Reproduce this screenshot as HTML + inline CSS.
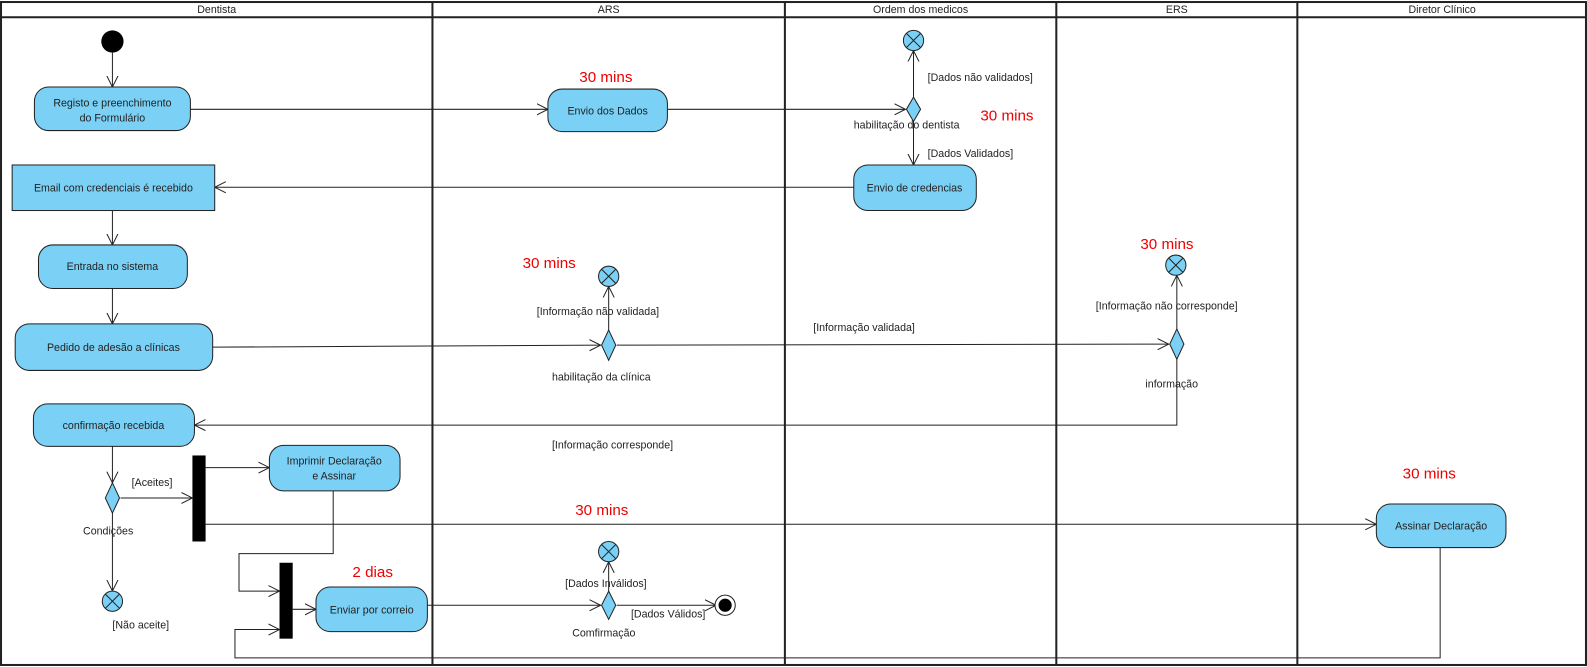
<!DOCTYPE html>
<html><head><meta charset="utf-8"><style>
html,body{margin:0;padding:0;background:#fff;width:1587px;height:667px;overflow:hidden}
svg{display:block}
text{font-family:"Liberation Sans",sans-serif;font-size:10.5px;fill:#222}
.r{font-size:15px;fill:#e00}
.n{fill:#7bd0f5;stroke:#222;stroke-width:1}
.l{stroke:#222;stroke-width:1;fill:none}
</style></head><body>
<svg width="1587" height="667" viewBox="0 0 1567 659" preserveAspectRatio="none" xmlns="http://www.w3.org/2000/svg">
<defs><marker id="a" markerWidth="12" markerHeight="12" refX="11" refY="6" orient="auto" markerUnits="userSpaceOnUse"><polyline points="0,0.5 11,6 0,11.5" fill="none" stroke="#222" stroke-width="1"/></marker></defs>
<!-- lanes -->
<rect x="1" y="2" width="1565" height="655" fill="none" stroke="#222" stroke-width="2"/>
<line x1="1" y1="17" x2="1566" y2="17" stroke="#222" stroke-width="2"/>
<g stroke="#222" stroke-width="2"><line x1="427" y1="2" x2="427" y2="657"/><line x1="775" y1="2" x2="775" y2="657"/><line x1="1043" y1="2" x2="1043" y2="657"/><line x1="1281" y1="2" x2="1281" y2="657"/></g>
<g text-anchor="middle"><text x="214" y="13">Dentista</text><text x="601" y="13">ARS</text><text x="909" y="13">Ordem dos medicos</text><text x="1162" y="13">ERS</text><text x="1424" y="13">Diretor Clínico</text></g>
<!-- connectors -->
<g class="l">
<line x1="111" y1="52" x2="111" y2="86" marker-end="url(#a)"/>
<line x1="188" y1="108" x2="541" y2="108" marker-end="url(#a)"/>
<line x1="659" y1="108" x2="894" y2="108" marker-end="url(#a)"/>
<line x1="902" y1="96" x2="902" y2="50" marker-end="url(#a)"/>
<line x1="902" y1="120" x2="902" y2="163" marker-end="url(#a)"/>
<line x1="843" y1="185" x2="212" y2="185" marker-end="url(#a)"/>
<line x1="111" y1="208" x2="111" y2="242" marker-end="url(#a)"/>
<line x1="111" y1="285" x2="111" y2="320" marker-end="url(#a)"/>
<line x1="210" y1="343" x2="593" y2="341" marker-end="url(#a)"/>
<line x1="601" y1="326" x2="601" y2="283" marker-end="url(#a)"/>
<line x1="609" y1="341" x2="1154" y2="340" marker-end="url(#a)"/>
<line x1="1162" y1="325" x2="1162" y2="272" marker-end="url(#a)"/>
<polyline points="1162,355 1162,420 192,420" marker-end="url(#a)"/>
<line x1="111" y1="441" x2="111" y2="477" marker-end="url(#a)"/>
<line x1="119" y1="492" x2="190" y2="492" marker-end="url(#a)"/>
<line x1="111" y1="507" x2="111" y2="584" marker-end="url(#a)"/>
<line x1="203" y1="462" x2="266" y2="462" marker-end="url(#a)"/>
<line x1="203" y1="518" x2="1359" y2="518" marker-end="url(#a)"/>
<polyline points="329,485 329,547 236,547 236,584 276,584" marker-end="url(#a)"/>
<polyline points="1422,541 1422,650 232,650 232,622 276,622" marker-end="url(#a)"/>
<line x1="289" y1="602" x2="312" y2="602" marker-end="url(#a)"/>
<line x1="422" y1="598" x2="593" y2="598" marker-end="url(#a)"/>
<line x1="601" y1="584" x2="601" y2="555" marker-end="url(#a)"/>
<line x1="609" y1="598" x2="707" y2="598" marker-end="url(#a)"/>
</g>
<!-- nodes -->
<circle cx="111" cy="41" r="11" fill="#000"/>
<rect class="n" x="34" y="86" width="154" height="43" rx="14"/>
<rect class="n" x="541" y="88" width="118" height="42" rx="14"/>
<rect class="n" x="843" y="163" width="121" height="45" rx="14"/>
<rect class="n" x="12" y="163" width="200" height="45"/>
<rect class="n" x="38" y="242" width="147" height="43" rx="14"/>
<rect class="n" x="15" y="320" width="195" height="46" rx="14"/>
<rect class="n" x="33" y="399" width="159" height="42" rx="14"/>
<rect class="n" x="266" y="440" width="129" height="45" rx="14"/>
<rect class="n" x="1359" y="498" width="128" height="43" rx="14"/>
<rect class="n" x="312" y="580" width="110" height="44" rx="14"/>
<rect x="190" y="450" width="13" height="85" fill="#000"/>
<rect x="276" y="556" width="13" height="75" fill="#000"/>
<g class="n"><polygon points="902,96 909,108 902,120 895,108"/><polygon points="601,326 608,341 601,356 594,341"/><polygon points="1162,325 1169,340 1162,355 1155,340"/><polygon points="111,477 118,492 111,507 104,492"/><polygon points="601,584 608,598 601,612 594,598"/></g>
<g>
<g transform="translate(902,40)"><circle class="n" r="10"/><path class="l" d="M-7,-7L7,7M7,-7L-7,7"/></g>
<g transform="translate(601,273)"><circle class="n" r="10"/><path class="l" d="M-7,-7L7,7M7,-7L-7,7"/></g>
<g transform="translate(1161,262)"><circle class="n" r="10"/><path class="l" d="M-7,-7L7,7M7,-7L-7,7"/></g>
<g transform="translate(111,594)"><circle class="n" r="10"/><path class="l" d="M-7,-7L7,7M7,-7L-7,7"/></g>
<g transform="translate(601,545)"><circle class="n" r="10"/><path class="l" d="M-7,-7L7,7M7,-7L-7,7"/></g>
</g>
<circle cx="716" cy="598" r="10" fill="#fff" stroke="#222"/><circle cx="716" cy="598" r="6.5" fill="#000"/>
<!-- node text -->
<g text-anchor="middle">
<text x="111" y="105">Registo e preenchimento</text><text x="111" y="120">do Formulário</text>
<text x="600" y="113">Envio dos Dados</text>
<text x="903" y="189">Envio de credencias</text>
<text x="112" y="189">Email com credenciais é recebido</text>
<text x="111" y="267">Entrada no sistema</text>
<text x="112" y="347">Pedido de adesão a clínicas</text>
<text x="112" y="424">confirmação recebida</text>
<text x="330" y="459">Imprimir Declaração</text><text x="330" y="474">e Assinar</text>
<text x="1423" y="523">Assinar Declaração</text>
<text x="367" y="606">Enviar por correio</text>
</g>
<!-- labels -->
<text x="916" y="80">[Dados não validados]</text>
<text x="843" y="127">habilitação do dentista</text>
<text x="916" y="155">[Dados Validados]</text>
<text x="530" y="311">[Informação não validada]</text>
<text x="545" y="376">habilitação da clínica</text>
<text x="803" y="327">[Informação validada]</text>
<text x="1082" y="306">[Informação não corresponde]</text>
<text x="1131" y="383">informação</text>
<text x="545" y="443">[Informação corresponde]</text>
<text x="130" y="480">[Aceites]</text>
<text x="82" y="528">Condições</text>
<text x="111" y="621">[Não aceite]</text>
<text x="558" y="580">[Dados Inválidos]</text>
<text x="623" y="610">[Dados Válidos]</text>
<text x="565" y="629">Comfirmação</text>
<text class="r" x="572" y="81">30 mins</text>
<text class="r" x="968" y="119">30 mins</text>
<text class="r" x="516" y="265">30 mins</text>
<text class="r" x="1126" y="246">30 mins</text>
<text class="r" x="568" y="509">30 mins</text>
<text class="r" x="1385" y="473">30 mins</text>
<text class="r" x="348" y="570">2 dias</text>
</svg>
</body></html>
